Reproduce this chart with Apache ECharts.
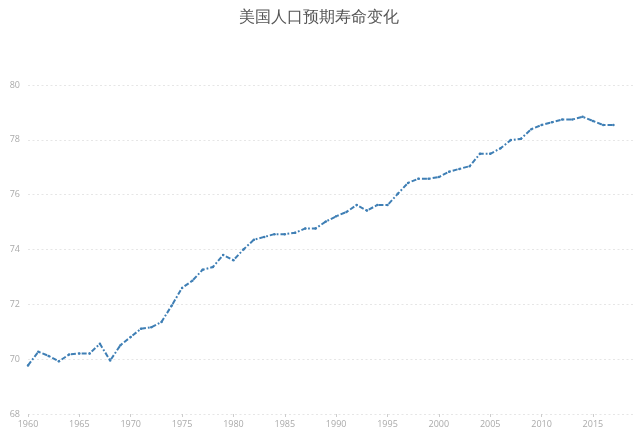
<!DOCTYPE html>
<html>
<head>
<meta charset="utf-8">
<script src="https://cdn.jsdelivr.net/npm/echarts@6/dist/echarts.min.js"></script>
<style>
html,body{margin:0;padding:0;background:#fff;}
#main{width:638px;height:437px;}
</style>
</head>
<body>
<div id="main"></div>
<script>
//年份
var years = [1960,1961,1962,1963,1964,1965,1966,1967,1968,1969,
	1970,1971,1972,1973,1974,1975,1976,1977,1978,1979,
	1980,1981,1982,1983,1984,1985,1986,1987,1988,1989,
	1990,1991,1992,1993,1994,1995,1996,1997,1998,1999,
	2000,2001,2002,2003,2004,2005,2006,2007,2008,2009,
	2010,2011,2012,2013,2014,2015,2016,2017];
//预期寿命
var lifeExp = [69.77,70.27,70.12,69.92,70.17,70.21,70.21,70.56,69.95,70.51,
	70.81,71.11,71.16,71.36,71.96,72.60,72.86,73.26,73.36,73.80,
	73.61,74.01,74.36,74.46,74.56,74.56,74.61,74.77,74.77,75.02,
	75.21,75.37,75.62,75.42,75.62,75.62,76.03,76.43,76.58,76.58,
	76.64,76.84,76.94,77.04,77.49,77.49,77.69,77.99,78.04,78.39,
	78.54,78.64,78.74,78.74,78.84,78.69,78.54,78.54];
var title = '美国人口预期寿命变化';

var seriesData = [];
for(var i = 0;i<years.length;i++){
	seriesData.push([years[i],lifeExp[i]]);
}

var myChart = echarts.init(document.getElementById('main'));
option = {
	animation: false,
	title: {
		text: title,
		left: 'center',
		top: 5,
		textStyle: {
			color: '#555',
			fontSize: 16,
			fontWeight: 'normal'
		}
	},
	grid: {
		left: 28,
		right: 4,
		top: 85,
		bottom: 23
	},
	xAxis: {
		type: 'value',
		min: 1960,
		max: 2019,
		interval: 5,
		axisLine: {show: false},
		axisTick: {
			show: true,
			length: 3,
			lineStyle: {color: '#ccc'}
		},
		axisLabel: {
			color: '#aaa',
			fontSize: 9,
			fontFamily: 'Open Sans',
			margin: 6,
			showMaxLabel: false,
			formatter: function(v){return String(v);}
		},
		splitLine: {show: false}
	},
	yAxis: {
		type: 'value',
		min: 68,
		max: 80,
		interval: 2,
		axisLine: {show: false},
		axisTick: {show: false},
		axisLabel: {
			color: '#aaa',
			fontSize: 9,
			fontFamily: 'Open Sans',
			margin: 8
		},
		splitLine: {
			show: true,
			lineStyle: {color: '#e6e6e6', type: [2, 2.5]}
		}
	},
	series: [
		{
			name: title,
			type: 'line',
			data: seriesData,
			symbol: 'circle',
			symbolSize: 2.5,
			itemStyle: {color: '#3f7fb5'},
			lineStyle: {color: '#3f7fb5', width: 2, type: [5, 2, 1.8, 2]}
		}
	]
};
myChart.setOption(option);
</script>
</body>
</html>
